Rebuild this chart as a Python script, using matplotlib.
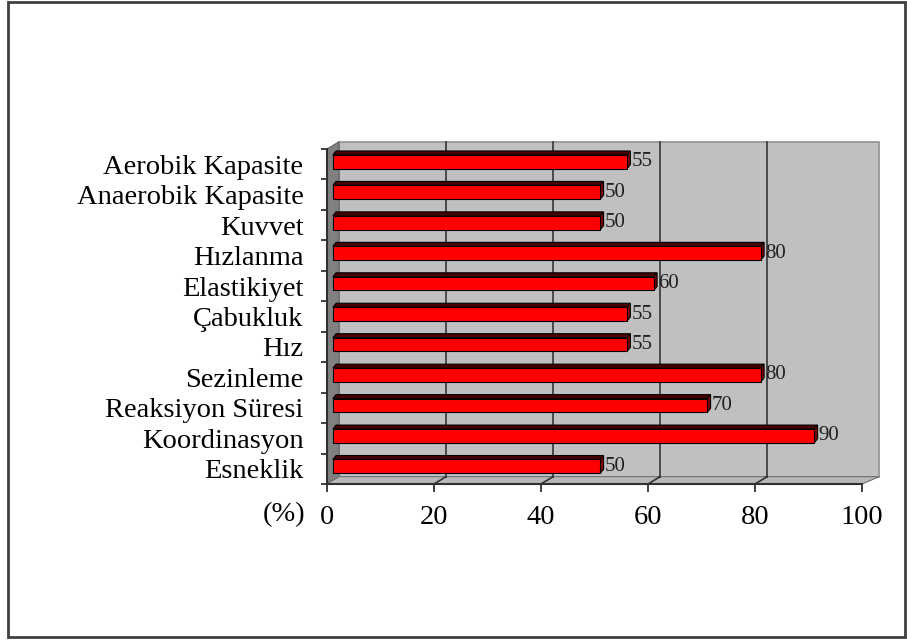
import matplotlib.pyplot as plt
from matplotlib.patches import Polygon, Rectangle

plt.rcParams['font.family'] = ['Liberation Serif', 'DejaVu Serif']

# data (top to bottom as in the chart)
categories = ['Aerobik Kapasite', 'Anaerobik Kapasite', 'Kuvvet', 'Hızlanma',
              'Elastikiyet', 'Çabukluk', 'Hız', 'Sezinleme',
              'Reaksiyon Süresi', 'Koordinasyon', 'Esneklik']
values = [55, 50, 50, 80, 60, 55, 55, 80, 70, 90, 50]
xticks = [0, 20, 40, 60, 80, 100]

W, H = 907, 644
fig = plt.figure(figsize=(W / 100, H / 100), dpi=100)

# outer frame
fig.patches.append(Rectangle((8 / W, 1 - 637 / H), (905 - 8) / W, (637 - 2) / H,
                             transform=fig.transFigure, fill=False,
                             edgecolor='#404040', lw=2))

ax = fig.add_axes([327 / W, (H - 484) / H, 535 / W, 335 / H])
n = len(categories)
ypos = [n - 1 - i for i in range(n)]
yb, yt = -0.5, n - 0.5
ax.set_xlim(0, 100)
ax.set_ylim(yb, yt)

# 3d depth offsets (data units)
dx, dy = 2.25, 0.24

# back wall, side wall, floor
ax.add_patch(Rectangle((dx, yb + dy), 100 + 1.0, yt - yb, facecolor='#c0c0c0',
                       edgecolor='#909090', lw=1.2, zorder=1, clip_on=False))
ax.add_patch(Polygon([(0, yb), (dx, yb + dy), (dx, yt + dy), (0, yt)],
                     closed=True, facecolor='#808080', edgecolor='#606060',
                     lw=0.8, zorder=1.5, clip_on=False))
ax.add_patch(Polygon([(0, yb), (100, yb), (101 + dx, yb + dy), (dx, yb + dy)],
                     closed=True, facecolor='#b8b8b8', edgecolor='#707070',
                     lw=0.8, zorder=1.5, clip_on=False))
for t in xticks[1:-1]:
    ax.plot([t + dx, t + dx], [yb + dy, yt + dy], color='#404040', lw=1.3,
            zorder=2, clip_on=False)
    ax.plot([t, t + dx], [yb, yb + dy], color='#303030', lw=1.2,
            zorder=2, clip_on=False)

# bars (sitting inside the depth, a bit to the right of the axis)
h = 0.45
bx0 = 1.1
bdx, bdy = 0.6, 0.13
for y, v in zip(ypos, values):
    yc = y + 0.08
    y0, y1 = yc - h / 2, yc + h / 2
    x1 = bx0 + v
    ax.add_patch(Polygon([(bx0, y1), (x1, y1), (x1 + bdx, y1 + bdy),
                          (bx0 + bdx, y1 + bdy)],
                         closed=True, facecolor='#4a0000', edgecolor='black',
                         lw=0.8, zorder=3))
    ax.add_patch(Polygon([(x1, y0), (x1 + bdx, y0 + bdy), (x1 + bdx, y1 + bdy),
                          (x1, y1)],
                         closed=True, facecolor='#800000', edgecolor='black',
                         lw=0.8, zorder=3))
    ax.add_patch(Rectangle((bx0, y0), v, h, facecolor='#ff0000',
                           edgecolor='black', lw=0.8, zorder=4))
    ax.text(x1 + bdx + 0.2, yc, str(v), ha='left', va='center', fontsize=15,
            color='#202020', zorder=5)

for s in ['top', 'right']:
    ax.spines[s].set_visible(False)
for s in ['left', 'bottom']:
    ax.spines[s].set_color('#303030')
    ax.spines[s].set_linewidth(1.5)
    ax.spines[s].set_zorder(6)

ax.set_yticks([y - 0.5 for y in range(n + 1)])
ax.set_yticklabels([])
ax.set_yticks(ypos, minor=True)
ax.set_yticklabels(categories, minor=True, fontsize=20.5)
ax.tick_params(axis='y', which='major', length=4, width=1.3, color='#303030')
ax.tick_params(axis='y', which='minor', length=0, pad=17)

ax.set_xticks(xticks)
ax.set_xticklabels([str(t) for t in xticks], fontsize=20.5)
ax.tick_params(axis='x', length=6, width=1.3, color='#303030', pad=9)

fig.text(305 / W, 1 - 515 / H, '(%)', ha='right', va='center', fontsize=20.5)

fig.savefig('out.png', dpi=100)
